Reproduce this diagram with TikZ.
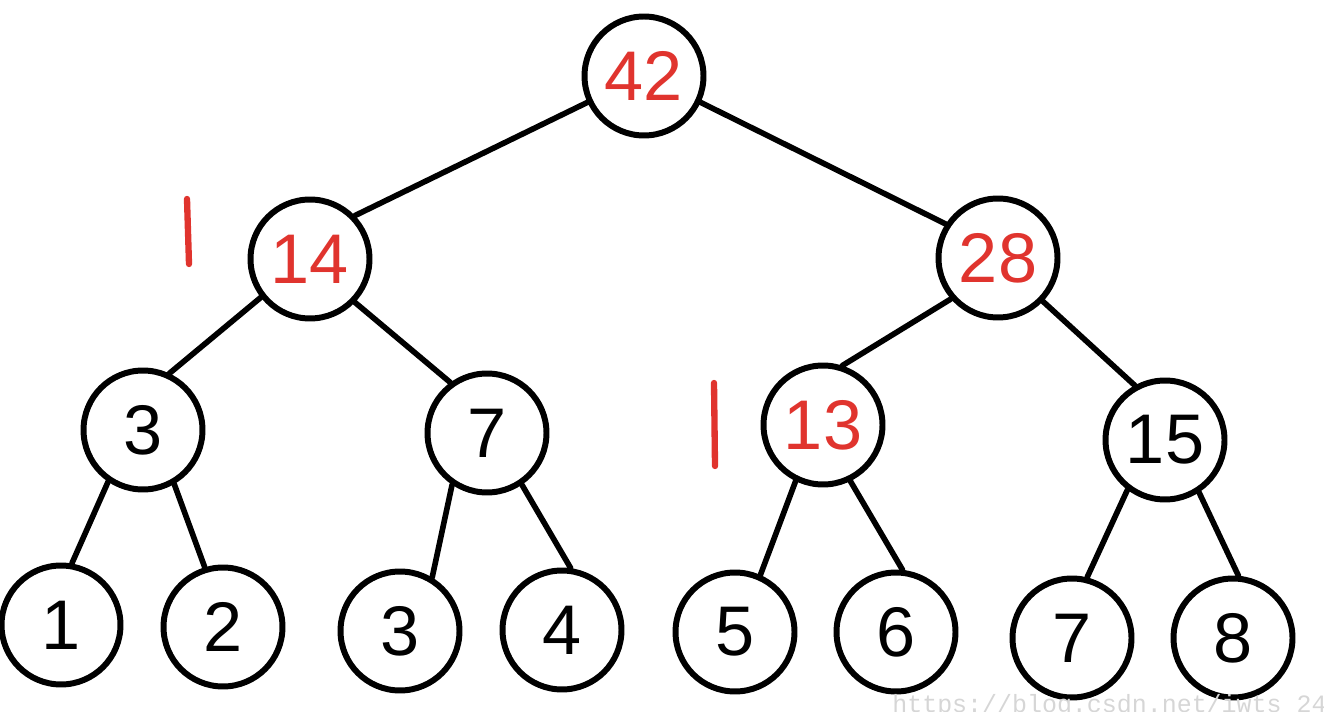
\documentclass[tikz,border=0pt]{standalone}
\usepackage{fontspec}
\setmainfont{Liberation Sans}
\newfontfamily\wmfont{Liberation Mono}
\definecolor{penred}{RGB}{224,52,46}
\definecolor{wmgray}{RGB}{214,214,214}
\begin{document}
\begin{tikzpicture}[x=0.02cm,y=-0.02cm,
  nd/.style={circle,draw,line width=3.4pt,minimum size=2.38cm,inner sep=0pt,
             font=\fontsize{40}{40}\selectfont},
  hot/.style={nd,text=penred},
  edge/.style={line width=3.2pt,line cap=round},
  redtick/.style={draw=penred,line width=3.6pt,line cap=round}]
\clip (0,0) rectangle (1324,712);
% internal nodes
\node[hot] (r) at (644,76)  {42};
\node[hot] (a) at (310,259) {14};
\node[hot] (b) at (998,258) {28};
\node[nd]  (c) at (143,430) {3};
\node[nd]  (d) at (487,433) {7};
\node[hot] (e) at (823,425) {13};
\node[nd]  (f) at (1165,440) {15};
% leaves
\node[nd] (l1) at (61,625)   {1};
\node[nd] (l2) at (223,627)  {2};
\node[nd] (l3) at (400,631)  {3};
\node[nd] (l4) at (562,630)  {4};
\node[nd] (l5) at (735,632)  {5};
\node[nd] (l6) at (896,632)  {6};
\node[nd] (l7) at (1072,638) {7};
\node[nd] (l8) at (1233,638) {8};
% edges
\draw[edge] (r.205) -- (a.44);
\draw[edge] (r.335) -- (b.147);
\draw[edge] (a.218) -- (c.65);
\draw[edge] (a.316) -- (d.126);
\draw[edge] (b.221) -- (e.72);
\draw[edge] (b.316) -- (f.119);
\draw[edge] (c.236) -- (l1.80);
\draw[edge] (c.300) -- (l2.107);
\draw[edge] (d.236) -- (l3.59);
\draw[edge] (d.304) -- (l4.82);
\draw[edge] (e.244) -- (l5.66);
\draw[edge] (e.296) -- (l6.84);
\draw[edge] (f.233) -- (l7.76);
\draw[edge] (f.303) -- (l8.85);
% red ticks
\draw[redtick] (187,199) -- (189,264);
\draw[redtick] (714,383) -- (715,466);
% watermark
\node[anchor=base west,text=wmgray,inner sep=0pt,
      font=\wmfont\fontsize{14.2}{14}\selectfont] (wm) at (892,712) {https://blog.csdn.net/iwts\_24};
\end{tikzpicture}
\end{document}
